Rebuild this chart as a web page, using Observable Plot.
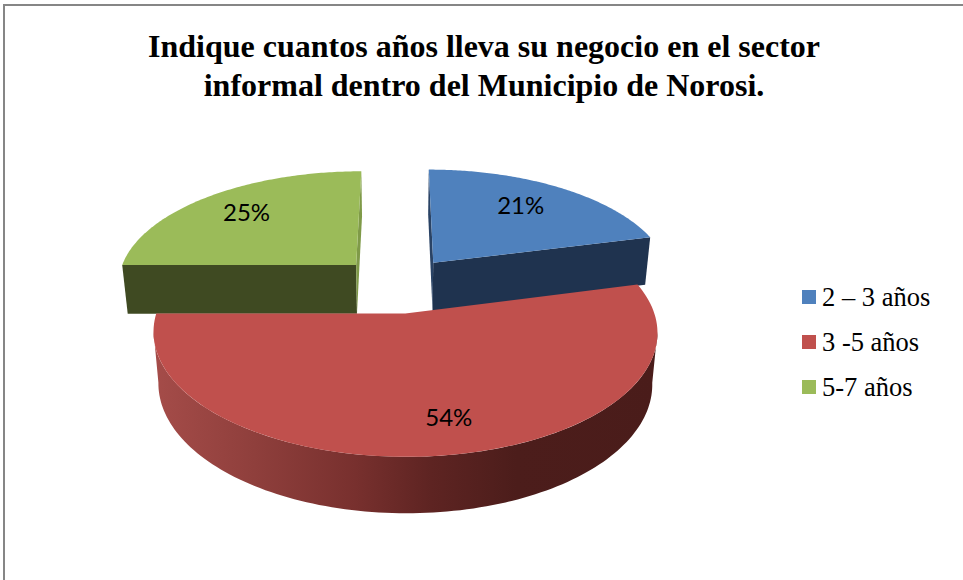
<!DOCTYPE html>
<html lang="es">
<head>
<meta charset="utf-8">
<script src="https://cdn.jsdelivr.net/npm/d3@7"></script>
<script src="https://cdn.jsdelivr.net/npm/@observablehq/plot@0.6"></script>
<style>
  html, body { margin: 0; padding: 0; background: #fff; }
  #chart { position: relative; width: 963px; height: 580px; overflow: hidden; }
  #chart svg { position: absolute; left: 0; top: 0; }
  #frame { position: absolute; left: 3px; top: 4px; width: 990px; height: 600px; border: 2px solid #868686; box-sizing: border-box; }
  #title { position: absolute; left: 4px; width: 960px; top: 27px; text-align: center; font: bold 32px/38.5px "Liberation Serif", serif; color: #000; }
  .lg { position: absolute; left: 802px; display: flex; align-items: center; font: 26.5px/30px "Liberation Serif", serif; color: #000; white-space: pre; }
  .lg i { display: block; width: 14px; height: 14px; margin-right: 6px; }
</style>
</head>
<body>
<div id="chart">
  <div id="frame"></div>
  <div id="title">Indique cuantos años lleva su negocio en el sector<br>informal dentro del Municipio de Norosi.</div>
</div>
<script>
const categories = ["2 – 3 años", "3 -5 años", "5-7 años"];
const shares = [21, 54, 25];
const topColors = ["#4F81BD", "#C0504D", "#9BBB59"];
const wallColors = ["#1F334F", "url(#redWall)", "#3F4A22"];
const edgeColors = ["#2A4365", "#7a302e", "#7F9A48"];

// 3-D view of the pie
const cx = 397, cy = 284, persp = 0.1527, tilt = 0.47, thick = 49.5, shrink = 0.02;
const explode = 60;
const radius = 240;
const labelFrac = [0.71, 0.775, 0.73];
const labelTurn = [-0.03, -0.07, 0];
const legendTops = [282, 327, 372];

function project(X, Y, z) {
  const w = 1 + persp * Y / 250;
  return {x: cx + (X / w) * (1 - shrink * z), y: cy - tilt * Y / w + thick * z / Math.pow(w, 0.65)};
}

const total = d3.sum(shares);
let acc = 0;
const slices = shares.map((v, i) => {
  const a0 = acc / total * 2 * Math.PI;
  acc += v;
  const a1 = acc / total * 2 * Math.PI;
  const mid = (a0 + a1) / 2;
  return {i, v, a0, a1, mid, ox: explode * Math.sin(mid), oy: explode * Math.cos(mid), r: radius};
});

const rim = (s, a, z) => project(s.ox + s.r * Math.sin(a), s.oy + s.r * Math.cos(a), z);
const apex = (s, z) => project(s.ox, s.oy, z);
const angles = (a0, a1) => d3.range(0, 121).map((k) => a0 + (a1 - a0) * k / 120);

const topPoly = (s) => [apex(s, 0), ...angles(s.a0, s.a1).map((a) => rim(s, a, 0))];
const radialWall = (s, a) => [apex(s, 0), rim(s, a, 0), rim(s, a, 1), apex(s, 1)];
// The rim wall spans the disc's silhouette: from its widest point on the right to its widest on the left.
const rimWall = (s) => {
  const scan = angles(s.a0, s.a1);
  const right = d3.greatest(scan, (a) => rim(s, a, 0).x);
  const left = d3.least(scan, (a) => rim(s, a, 0).x);
  const as = angles(right, left);
  return [...as.map((a) => rim(s, a, 0)), ...as.slice().reverse().map((a) => rim(s, a, 1))];
};

const poly = (pts, fill) => Plot.line(pts, {x: "x", y: "y", fill, stroke: "none"});
const [blue, red, green] = slices;

const defs = () => {
  const d = d3.create("svg:defs");
  const g = d.append("linearGradient").attr("id", "redWall").attr("x1", 0).attr("x2", 1).attr("y1", 0).attr("y2", 0);
  [[0, "#A54C49"], [0.2, "#8F3F3C"], [0.4, "#78302E"], [0.55, "#5E2422"], [0.72, "#4C1D1B"], [1, "#4A1C1A"]]
    .forEach(([o, c]) => g.append("stop").attr("offset", o).attr("stop-color", c));
  return d.node();
};

const labels = slices.map((s) => {
  const f = labelFrac[s.i], a = s.mid + labelTurn[s.i];
  const p = project(s.ox + s.r * f * Math.sin(a), s.oy + s.r * f * Math.cos(a), 0);
  return {x: p.x, y: p.y, text: s.v + "%"};
});

const plot = Plot.plot({
  width: 963, height: 580, margin: 0,
  style: {background: "transparent"},
  x: {domain: [0, 963], range: [0, 963], axis: null},
  y: {domain: [0, 580], range: [0, 580], axis: null},
  marks: [
    defs,
    poly(radialWall(blue, blue.a1), wallColors[0]),
    poly(radialWall(blue, blue.a0), edgeColors[0]),
    poly(radialWall(green, green.a0), wallColors[2]),
    poly(radialWall(green, green.a1), edgeColors[2]),
    poly(topPoly(blue), topColors[0]),
    poly(topPoly(green), topColors[2]),
    poly(rimWall(red), wallColors[1]),
    poly(topPoly(red), topColors[1]),
    Plot.text(labels, {x: "x", y: "y", text: "text", fontSize: 24, fontFamily: "Lato, sans-serif", fill: "#000"})
  ]
});
const chart = document.getElementById("chart");
chart.appendChild(plot);

categories.forEach((c, i) => {
  const row = document.createElement("div");
  row.className = "lg";
  row.style.top = legendTops[i] + "px";
  const sw = document.createElement("i");
  sw.style.background = topColors[i];
  row.appendChild(sw);
  row.appendChild(document.createTextNode(c));
  chart.appendChild(row);
});
</script>
</body>
</html>
